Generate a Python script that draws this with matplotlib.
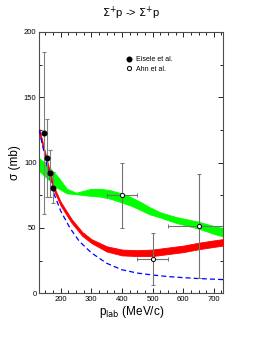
import matplotlib
matplotlib.use("Agg")
import matplotlib.pyplot as plt
from matplotlib.ticker import MultipleLocator
from matplotlib.lines import Line2D

plt.rcParams['font.family'] = ['Liberation Sans', 'DejaVu Sans']

# Green band (model 1)
green_p  = [130, 160, 190, 220, 250, 275, 300, 330, 360, 400, 430, 460, 490, 525, 575, 625, 650, 700, 730]
green_hi = [103.5, 97, 89.5, 80, 77, 78.5, 80, 80, 79, 76.5, 73.5, 70, 66, 62, 58.5, 56, 54.8, 51.5, 50]
green_lo = [93.5, 87, 80.5, 76.5, 75.8, 75.2, 74.5, 74, 72.5, 69.5, 67, 63.8, 60.5, 58, 54, 51, 49.5, 45.5, 43.5]

# Red band (model 2)
red_p  = [130, 150, 175, 200, 235, 270, 300, 350, 400, 450, 500, 550, 600, 650, 700, 730]
red_hi = [126, 107, 83, 70, 57, 47, 41.5, 36, 33.5, 33, 33.5, 35, 36.5, 38.7, 40.5, 41.5]
red_lo = [122, 104, 80, 67, 54, 44, 38.5, 32, 29, 28.5, 28.5, 30, 31.5, 33.7, 35.5, 36.5]

# Blue dashed curve
blue_p = [130, 150, 175, 200, 230, 260, 300, 350, 400, 450, 500, 550, 600, 650, 700, 730]
blue_s = [125, 103, 78, 63, 50, 40, 31, 23, 18, 15.5, 14, 12.8, 12, 11.3, 10.8, 10.5]

# Eisele et al. data
eis_p = [145, 154, 165, 174]
eis_s = [122.7, 103.6, 91.8, 80.8]
eis_e = [62, 29.6, 18, 12]

# Ahn et al. data
ahn_p  = [400, 500, 650]
ahn_s  = [75, 26, 51.5]
ahn_ey = [25, 20, 40]
ahn_ex = [50, 50, 100]

fig = plt.figure(figsize=(2.70, 3.49), dpi=100)
ax = fig.add_axes([39.3/270, 1 - 293.3/349, (223 - 39.3)/270, (293.3 - 32.0)/349])

ax.fill_between(green_p, green_lo, green_hi, color='#00ff00', lw=0.6, edgecolor='#00ff00', zorder=2)
ax.fill_between(red_p, red_lo, red_hi, color='#ff0000', lw=0.6, edgecolor='#ff0000', zorder=3)
ax.plot(blue_p, blue_s, color='#0000ff', lw=0.9, dashes=(4, 2.5), zorder=4)

ax.errorbar(eis_p, eis_s, yerr=eis_e, fmt='o', color='black', ms=3.3,
            ecolor='0.5', elinewidth=0.8, capsize=1.5, capthick=0.8, zorder=5)
ax.errorbar(ahn_p, ahn_s, yerr=ahn_ey, xerr=ahn_ex, fmt='o', mfc='white', mec='black',
            mew=0.7, ms=3.0, ecolor='0.45', elinewidth=0.8, capsize=1.5, capthick=0.8,
            zorder=6)

ax.set_xlim(130, 730)
ax.set_ylim(0, 200)
ax.xaxis.set_major_locator(MultipleLocator(100))
ax.xaxis.set_minor_locator(MultipleLocator(25))
ax.yaxis.set_major_locator(MultipleLocator(50))
ax.yaxis.set_minor_locator(MultipleLocator(25))
ax.tick_params(which='both', direction='in', top=True, right=True, labelsize=5.5, pad=2)
ax.tick_params(which='major', length=3.5, width=0.6)
ax.tick_params(which='minor', length=2, width=0.6)
for s in ax.spines.values():
    s.set_linewidth(0.8)
    s.set_color('0.3')

ax.set_xlabel(r'p$_{\rm lab}$ (MeV/c)', fontsize=8.5, labelpad=1)
ax.set_ylabel('σ (mb)', fontsize=8.5, labelpad=2)
ax.set_title(r'$\Sigma^{+}$p -> $\Sigma^{+}$p', fontsize=8, pad=11)

handles = [Line2D([], [], ls='none', marker='o', color='black', ms=3.3),
           Line2D([], [], ls='none', marker='o', mfc='white', mec='black', mew=0.7, ms=3.0)]
ax.legend(handles, ['Eisele et al.', 'Ahn et al.'], loc='upper left',
          bbox_to_anchor=(0.45, 0.92), fontsize=5, frameon=False,
          handletextpad=0.5, handlelength=1.0, borderpad=0, labelspacing=0.35)

fig.savefig('out.png', dpi=100)
